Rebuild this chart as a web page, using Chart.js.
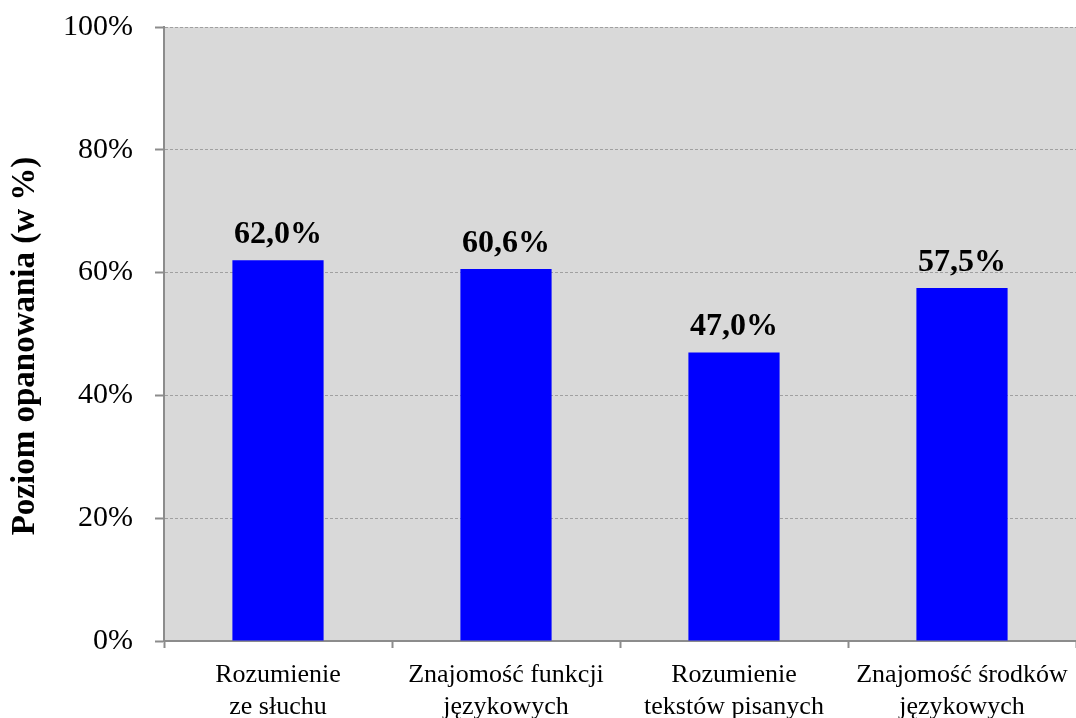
<!DOCTYPE html>
<html><head><meta charset="utf-8">
<script src="https://cdn.jsdelivr.net/npm/chart.js@4"></script>
<style>html,body{margin:0;padding:0;background:#fff}#wrap{width:1076px;height:718px}</style>
</head><body><div id="wrap"><canvas id="c" width="1076" height="718"></canvas></div>
<script>
const categories = [["Rozumienie","ze słuchu"],["Znajomość funkcji","językowych"],["Rozumienie","tekstów pisanych"],["Znajomość środków","językowych"]];
const values = [62.0, 60.6, 47.0, 57.5];
const valueLabels = ["62,0%","60,6%","47,0%","57,5%"];
const yTicks = [0,20,40,60,80,100];
const yTitle = "Poziom opanowania (w %)";

const serif = "'Liberation Serif','Times New Roman',serif";
const AXIS = '#8c8c8c';

const bgPlugin = {
  id:'bg',
  beforeDraw(chart){
    const {ctx, chartArea:a} = chart;
    ctx.save(); ctx.fillStyle='#d9d9d9';
    ctx.fillRect(a.left,a.top,a.right-a.left,a.bottom-a.top); ctx.restore();
  }
};
const labelPlugin = {
  id:'vlabels',
  afterDatasetsDraw(chart){
    const {ctx} = chart;
    const meta = chart.getDatasetMeta(0);
    ctx.save();
    ctx.font = "bold 32px " + serif;
    ctx.fillStyle='#000'; ctx.textAlign='center'; ctx.textBaseline='alphabetic';
    meta.data.forEach((bar,i)=>{ ctx.fillText(valueLabels[i], bar.x, bar.y-17); });
    ctx.restore();
  }
};
const titlePlugin = {
  id:'ytitle',
  afterDraw(chart){
    const {ctx} = chart;
    ctx.save();
    ctx.translate(25,346); ctx.rotate(-Math.PI/2);
    ctx.font = "bold 33px " + serif;
    ctx.fillStyle='#000'; ctx.textAlign='center'; ctx.textBaseline='middle';
    ctx.fillText(yTitle,0,0);
    ctx.restore();
  }
};

new Chart(document.getElementById('c'),{
  type:'bar',
  data:{labels:categories,datasets:[{data:values,backgroundColor:'#0000ff',borderWidth:0,categoryPercentage:1,barPercentage:0.4}]},
  options:{
    responsive:false, animation:false,
    layout:{padding:{top:27,right:0,bottom:0,left:0}},
    plugins:{legend:{display:false},tooltip:{enabled:false}},
    scales:{
      x:{
        grid:{offset:true,drawOnChartArea:false,tickLength:7,tickColor:AXIS,tickWidth:2},
        border:{color:AXIS,width:2},
        ticks:{font:{family:serif,size:26},color:'#000',padding:12,maxRotation:0,autoSkip:false},
        afterFit(s){s.height=77;s.paddingLeft=0;s.paddingRight=0;}
      },
      y:{
        min:0,max:100,
        afterBuildTicks(s){s.ticks = yTicks.map(v=>({value:v}));},
        grid:{color:'#a0a0a0',lineWidth:1,tickLength:9,tickColor:AXIS,tickWidth:2,tickBorderDash:[]},
        border:{color:AXIS,width:2,dash:[3,2]},
        ticks:{font:{family:serif,size:30},color:'#000',padding:22,callback:v=>v+'%'},
        afterFit(s){s.width=164;s.paddingTop=0;s.paddingBottom=0;}
      }
    }
  },
  plugins:[bgPlugin,labelPlugin,titlePlugin]
});
</script></body></html>
